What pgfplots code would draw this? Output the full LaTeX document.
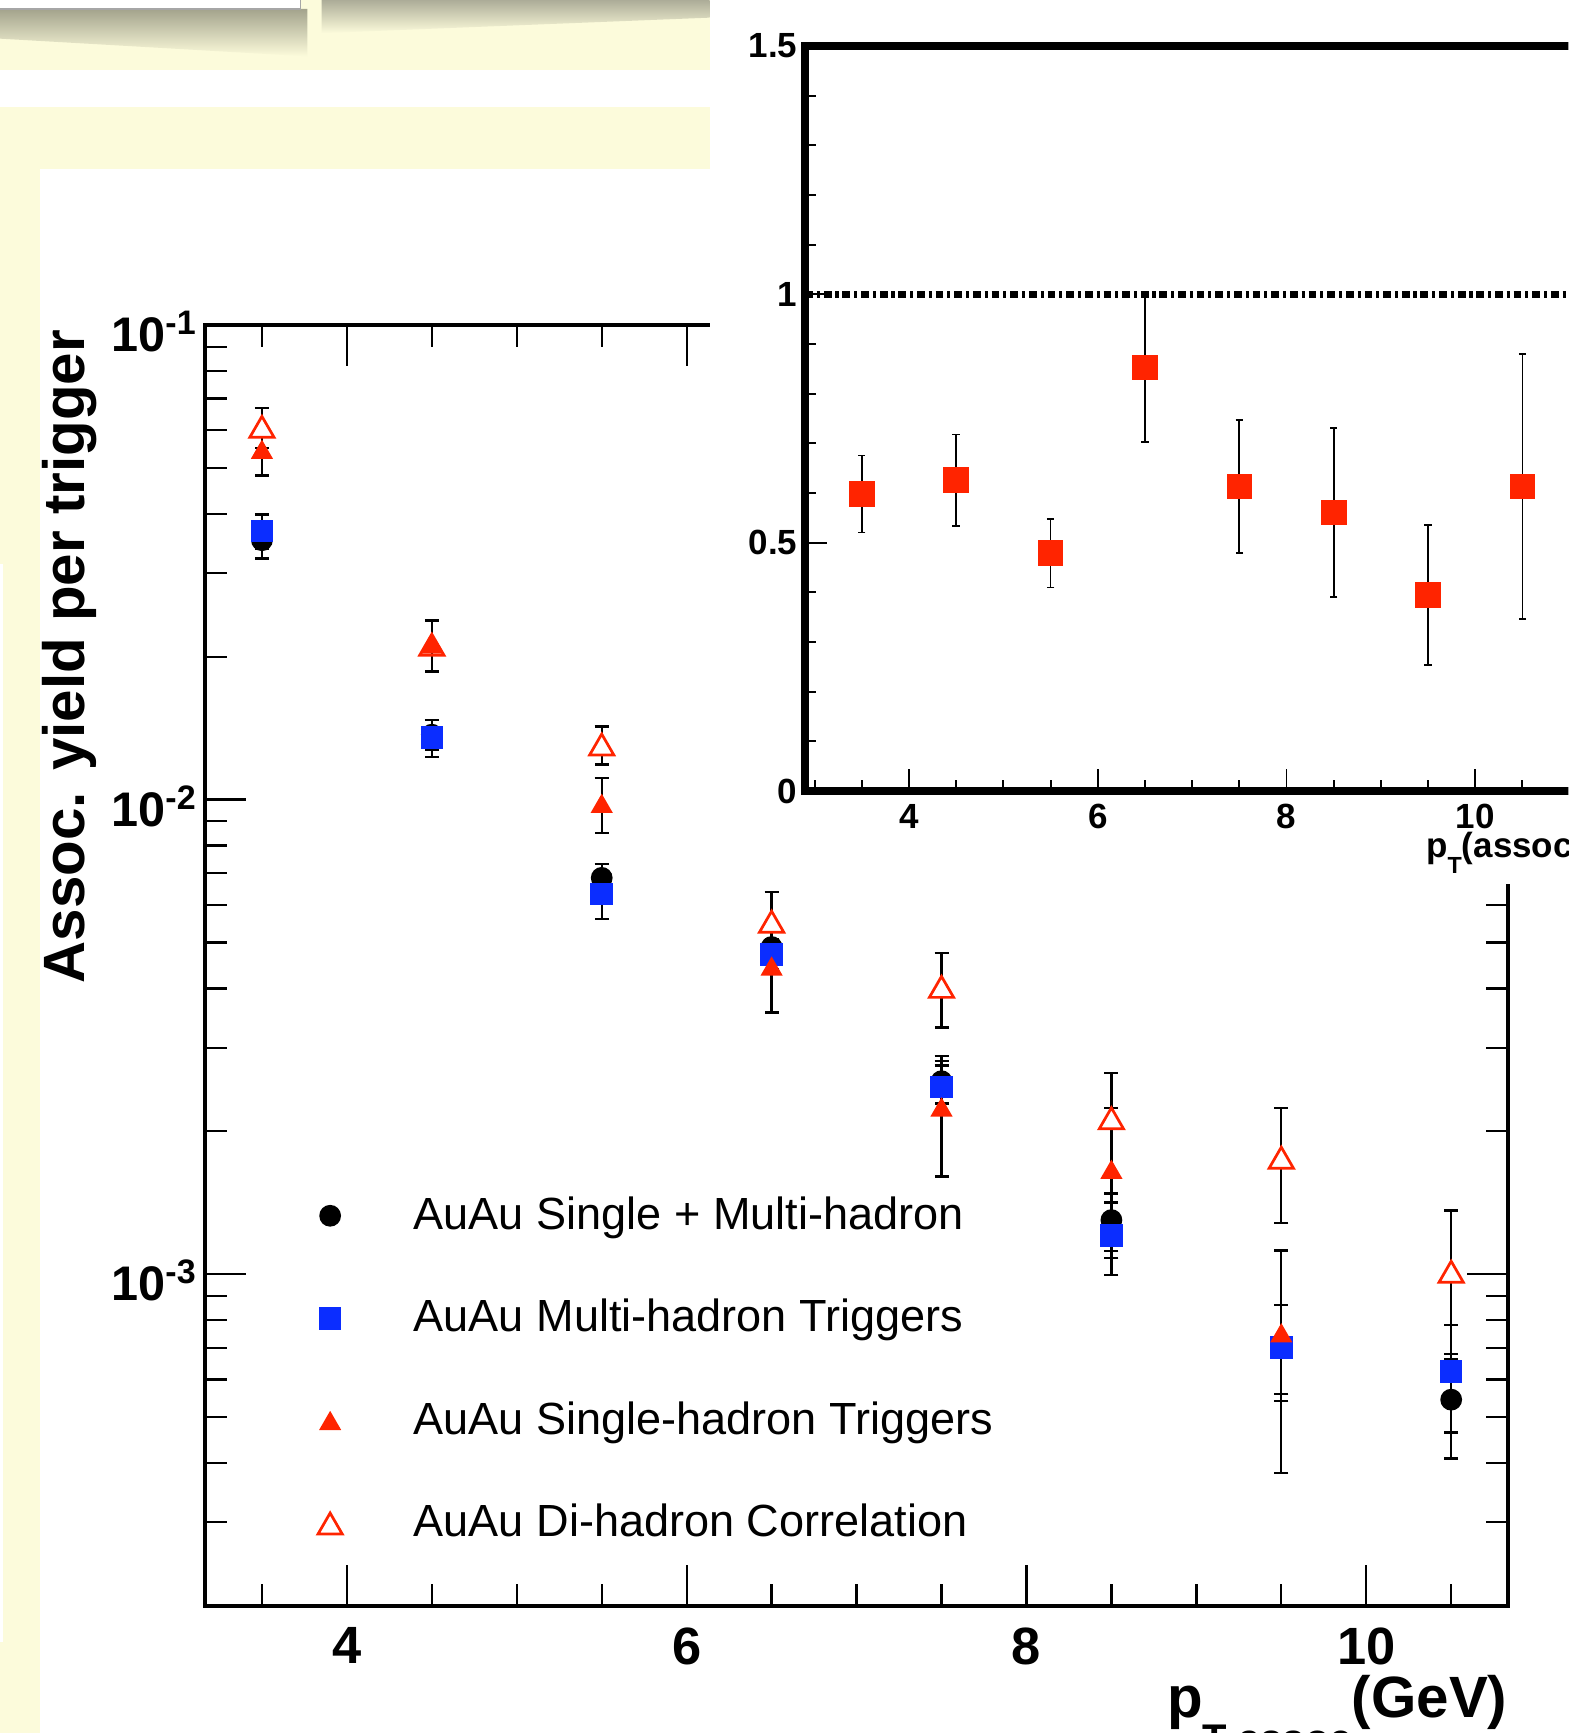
\documentclass[border=0pt]{standalone}
\usepackage{fontspec}
\setmainfont{Liberation Sans}
\usepackage{pgfplots}
\pgfplotsset{compat=1.18}
\definecolor{rootred}{HTML}{FF2400}
\definecolor{rootblue}{HTML}{0B2DFF}
\definecolor{slidebeige}{HTML}{FCFBDB}
\definecolor{shadowgray}{HTML}{A3A38C}
\pgfplotsset{
  aerr/.style={error bars/.cd, y dir=both, y explicit,
    error bar style={black, line width=0.6pt},
    error mark options={rotate=90, draw=black, fill=black, line width=0.6pt, mark size=1.8pt, yshift=0pt}},
  ierr/.style={error bars/.cd, y dir=both, y explicit,
    error bar style={black, line width=0.45pt},
    error mark options={rotate=90, draw=black, fill=black, line width=0.45pt, mark size=0.95pt}},
}
\begin{document}
\begin{tikzpicture}
\useasboundingbox (0,0) rectangle (14.19,15.68);
\clip (0,0) rectangle (14.19,15.68);
% slide background pieces
\fill[slidebeige] (0,15.05) rectangle (6.42,15.68);
\shade[top color=shadowgray, bottom color=slidebeige] (0,15.60) -- (2.78,15.60) -- (2.78,15.17) -- (0,15.33) -- cycle;
\fill[white] (0,15.596) rectangle (2.72,15.7);
\draw[gray!70, line width=0.4pt] (0,15.596) -- (2.72,15.596) -- (2.72,15.7);
\shade[top color=shadowgray!90, bottom color=slidebeige] (2.91,15.68) -- (6.42,15.68) -- (6.42,15.52) -- (2.91,15.38) -- cycle;
\fill[slidebeige] (0,14.15) rectangle (6.42,14.715);
\fill[slidebeige] (0,0) rectangle (0.358,14.15);
\fill[white] (0,0.82) rectangle (0.03,10.58);

\begin{axis}[
  at={(1.855cm,1.15cm)}, anchor=south west,
  scale only axis, width=11.79cm, height=11.59cm,
  xmin=3.165, xmax=10.835,
  ymode=log, ymin=2e-4, ymax=0.1,
  xtick={4,6,8,10}, xticklabels={4,6,8,10},
  minor xtick={3.5,4.5,5,5.5,6.5,7,7.5,8.5,9,9.5,10.5},
  ytick={1e-3,1e-2,1e-1},
  yticklabels={{10\textsuperscript{-3}},{10\textsuperscript{-2}},{10\textsuperscript{-1}}},
  minor ytick={2e-4,3e-4,4e-4,5e-4,6e-4,7e-4,8e-4,9e-4,2e-3,3e-3,4e-3,5e-3,6e-3,7e-3,8e-3,9e-3,2e-2,3e-2,4e-2,5e-2,6e-2,7e-2,8e-2,9e-2},
  major tick length=0.37cm, minor tick length=0.2cm,
  tick align=inside,
  axis line style={line width=1.1pt},
  every tick/.style={black, line width=0.6pt},
  xticklabel style={font=\fontsize{13.5}{14}\selectfont\bfseries, inner sep=0pt, yshift=-0.19cm},
  yticklabel style={font=\fontsize{12.5}{13}\selectfont\bfseries, anchor=base east, inner sep=0pt, xshift=-0.06cm, yshift=-0.24cm},
  xlabel={p\raisebox{-0.32cm}{\fontsize{10.3}{10}\selectfont T assoc}(GeV)},
  xlabel style={font=\fontsize{15}{16}\selectfont\bfseries, at={(axis description cs:1,-0.087)}, anchor=base east, inner sep=0pt},
  ylabel={Assoc. yield per trigger},
  ylabel style={font=\fontsize{15}{16}\selectfont\bfseries, at={(axis description cs:-0.0827,0.9965)}, anchor=south east, inner sep=0pt},
  legend style={at={(axis description cs:0.0827,0.3196)}, anchor=north west, draw=none, fill=none,
    inner sep=0pt, outer sep=0pt, font=\fontsize{11.6}{13}\selectfont,
    row sep=0.58cm, column sep=0.6cm, nodes={inner sep=0pt}},
  legend cell align=left,
  legend image code/.code={\draw[#1] plot coordinates {(0cm,0cm)}; \path (-0.15cm,-0.1cm) (0.15cm,0.1cm);},
]
\addplot[only marks, mark=*, mark size=2.6pt, black, aerr] coordinates {
  (3.5,0.0352) +- (0,0.0030)
  (4.5,0.0137) +- (0,0.0010)
  (5.5,0.00684) +- (0,0.00047)
  (6.5,0.00489) +- (0,0.00020)
  (7.5,0.00255) +- (0,0.00026)
  (8.5,0.00130) +- (0,0.00018)
  (9.5,0.00071) +- (0,0.00015)
  (10.5,0.000544) +- (0,0.000135)
};
\addlegendentry{AuAu Single + Multi-hadron}
\addplot[only marks, mark=square*, mark size=2.7pt, color=rootblue, aerr] coordinates {
  (3.5,0.0368) +- (0,0.0031)
  (4.5,0.0135) +- (0,0.0012)
  (5.5,0.00632) +- (0,0.00072)
  (6.5,0.00472) +- (0,0.00033)
  (7.5,0.00248) +- (0,0.00027)
  (8.5,0.001205) +- (0,0.00021)
  (9.5,0.000701) +- (0,0.00016)
  (10.5,0.000623) +- (0,0.000159)
};
\addlegendentry{AuAu Multi-hadron Triggers}
\addplot[only marks, mark=triangle*, mark size=2.9pt, color=rootred, mark options={yshift=-0.7pt}, aerr] coordinates {
  (3.5,0.0546) +- (0,0.0064)
  (4.5,0.02123) +- (0,0.0026)
  (5.5,0.0098) +- (0,0.0013)
  (6.5,0.00445) +- (0,0.00089)
  (7.5,0.002246) +- (0,0.00064)
  (8.5,0.00166) +- (0,0.00058)
  (9.5,0.000751) +- (0,0.00037)
};
\addlegendentry{AuAu Single-hadron Triggers}
\addplot[only marks, mark=triangle*, mark size=3.6pt, color=rootred, mark options={draw=rootred, fill=white, line width=0.7pt, yshift=-0.9pt}, aerr] coordinates {
  (3.5,0.0610) +- (0,0.0059)
  (5.5,0.01306) +- (0,0.0012)
  (6.5,0.00553) +- (0,0.00086)
  (7.5,0.00403) +- (0,0.00072)
  (8.5,0.00213) +- (0,0.00052)
  (9.5,0.00176) +- (0,0.00048)
  (10.5,0.001012) +- (0,0.00035)
};
\addlegendentry{AuAu Di-hadron Correlation}
% di-hadron point at 4.5 lies on the single-hadron one: outline only
\addplot[forget plot, only marks, mark=triangle, mark size=3.6pt, color=rootred, mark options={line width=0.7pt, yshift=-0.9pt}] coordinates {
  (4.5,0.0212)
};
\end{axis}

% white pad behind the inset
\fill[white] (6.42,7.68) rectangle (14.3,15.7);

\begin{axis}[
  at={(7.285cm,8.522cm)}, anchor=south west,
  scale only axis, width=7.088cm, height=6.742cm,
  xmin=2.9, xmax=11.2, ymin=0, ymax=1.5,
  xtick={4,6,8,10}, xticklabels={4,6,8,10},
  minor xtick={3,3.5,4.5,5,5.5,6.5,7,7.5,8.5,9,9.5,10.5,11},
  ytick={0,0.5,1,1.5}, yticklabels={0,0.5,1,1.5},
  minor ytick={0.1,0.2,0.3,0.4,0.6,0.7,0.8,0.9,1.1,1.2,1.3,1.4},
  xtick pos=bottom, ytick pos=left,
  tick align=inside,
  major tick length=0.2cm, minor tick length=0.1cm,
  axis line style={line width=2pt},
  every tick/.style={black, line width=0.5pt},
  ticklabel style={font=\fontsize{9}{10}\selectfont\bfseries, inner sep=0pt},
  xticklabel style={yshift=-0.11cm},
  yticklabel style={xshift=-0.065cm},
  xlabel={p\raisebox{-0.14cm}{\fontsize{6}{6}\selectfont T}(assoc) (GeV/c)},
  xlabel style={font=\fontsize{9}{10}\selectfont\bfseries, at={(axis description cs:0.792,-0.0893)}, anchor=base west, inner sep=0pt},
]
\addplot[black, line width=1.8pt, dash pattern=on 2pt off 1pt on 0.8pt off 1pt] coordinates {(2.9,1) (11.2,1)};
\addplot[only marks, mark=square*, mark size=3.1pt, color=rootred, ierr] coordinates {
  (3.5,0.598) +- (0,0.0775)
  (4.5,0.626) +- (0,0.092)
  (5.5,0.479) +- (0,0.069)
  (6.5,0.853) +- (0,0.150)
  (7.5,0.6135) +- (0,0.1335)
  (8.5,0.5605) +- (0,0.170)
  (9.5,0.3945) +- (0,0.141)
  (10.5,0.6135) +- (0,0.267)
};
\end{axis}
\end{tikzpicture}
\end{document}
